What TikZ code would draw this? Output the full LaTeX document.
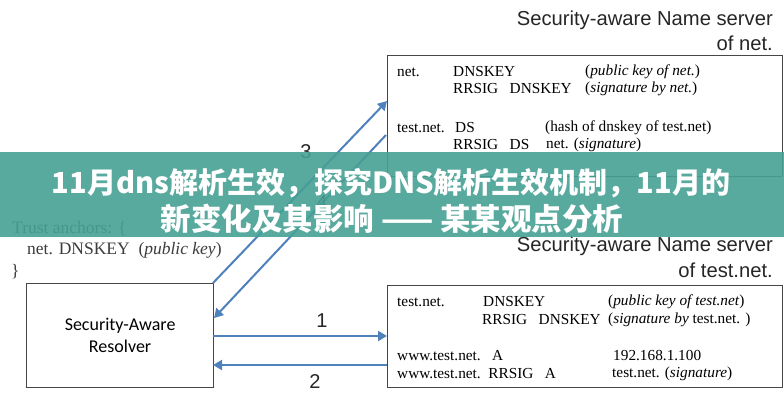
\documentclass[tikz,border=0pt]{standalone}
\usepackage{fontspec}
\setmainfont{Liberation Serif}
\newfontfamily\arialf{Liberation Sans}
\newfontfamily\calib{Carlito}
\newfontfamily\cjk{Noto Sans CJK SC}
\usetikzlibrary{arrows.meta}
\definecolor{arrowblue}{RGB}{79,129,189}
\definecolor{boxgray}{RGB}{70,70,70}
\definecolor{banner}{RGB}{70,160,148}
\definecolor{anchorgray}{RGB}{60,60,60}
\tikzset{
  rec/.style={inner sep=0pt, anchor=west, font=\fontsize{15.3}{17}\selectfont},
  ttl/.style={inner sep=0pt, anchor=east, font=\arialf\fontsize{20.2}{22}\selectfont, text=black!85},
  num/.style={inner sep=0pt, font=\arialf\fontsize{20}{22}\selectfont, text=black!85},
  frame/.style={draw=boxgray, line width=1.2pt},
  conn/.style={draw=arrowblue, line width=2pt, -{Triangle[length=9pt,width=10pt]}},
  anc/.style={inner sep=0pt, anchor=west, text=anchorgray, font=\fontsize{17.5}{19}\selectfont},
  bantext/.style={inner sep=0pt, text=white, font=\cjk\bfseries},
}
\begin{document}
\begin{tikzpicture}[x=1pt,y=-1pt]
\useasboundingbox (0,0) rectangle (784,400);
\fill[white] (0,0) rectangle (784,400);

% titles
\node[ttl] (t1a) at (773,20) {Security-aware Name server};
\node[ttl] (t1b) at (773,43) {of net.};
\node[ttl] (t2a) at (773,246) {Security-aware Name server};
\node[ttl] (t2b) at (773,270) {of test.net.};

% net. box
\node[frame, inner sep=0pt, minimum width=395pt, minimum height=121pt, anchor=north west] (netbox) at (387,55) {};
\node[rec] (n1a) at (397,72) {net.};
\node[rec] (n1b) at (453,72) {DNSKEY};
\node[rec] (n1c) at (585,72) {(\textit{public key of net.})};
\node[rec] (n2b) at (453,89) {RRSIG\ \ \ DNSKEY};
\node[rec] (n2c) at (585,89) {(\textit{signature by net.})};
\node[rec] (n3a) at (397,128) {test.net.};
\node[rec] (n3b) at (455,128) {DS};
\node[rec] (n3c) at (545,128) {(hash of dnskey of test.net)};
\node[rec] (n4b) at (453,145) {RRSIG\ \ \ DS};
\node[rec] (n4c) at (546,145) {net. (\textit{signature})};

% test.net. box
\node[frame, inner sep=0pt, minimum width=395pt, minimum height=102pt, anchor=north west] (tbox) at (387,285) {};
\node[rec] (m1a) at (397,302) {test.net.};
\node[rec] (m1b) at (483,302) {DNSKEY};
\node[rec] (m1c) at (608,302) {(\textit{public key of test.net})};
\node[rec] (m2b) at (482,320) {RRSIG\ \ \ DNSKEY};
\node[rec] (m2c) at (608,320) {(\textit{signature by} test.net. )};
\node[rec] (m3a) at (397,356) {www.test.net.\ \ \ A};
\node[rec] (m3c) at (613,356) {192.168.1.100};
\node[rec] (m4a) at (397,374) {www.test.net.\ \ RRSIG\ \ \ A};
\node[rec] (m4c) at (612,374) {test.net. (\textit{signature})};

% resolver
\node[frame, inner sep=0pt, minimum width=187pt, minimum height=104pt, anchor=north west, align=center,
      font=\calib\fontsize{18}{21.5}\selectfont] (res) at (26,283) {Security-Aware\\Resolver};

% trust anchors
\node[anc] (ta1) at (12,229) {Trust anchors: \{};
\node[anc] (ta2) at (27,250) {net. DNSKEY\ \ (\textit{public key})};
\node[anc] (ta3) at (11,272) {\}};

% connectors
\coordinate (r1) at (213,336);
\coordinate (b1) at (387,336);
\coordinate (r2) at (213,365);
\coordinate (b2) at (387,365);
\coordinate (r3) at (213,283);
\coordinate (b3) at (387,101);
\coordinate (r4) at (214,318);
\coordinate (b4) at (386,135);
\draw[conn] (r1) -- (b1);
\draw[conn] (b2) -- (r2);
\draw[conn] (r3) -- (b3);
\draw[conn] (b4) -- (r4);
\node[num] (l1) at (322,321) {1};
\node[num] (l2) at (315,382) {2};
\node[num] (l3) at (306,152) {3};
\node[num] (l4) at (322,203) {4};

% banner
\fill[banner, opacity=0.9] (0,152) rectangle (784,237);
\node[bantext, font=\cjk\bfseries\fontsize{29}{34}\selectfont] (ban1) at (391,183)
  {11月dns解析生效，探究DNS解析生效机制，11月的};
\node[bantext, font=\cjk\bfseries\fontsize{30.5}{36}\selectfont] (ban2) at (392,219)
  {新变化及其影响 —— 某某观点分析};
\end{tikzpicture}
\end{document}
